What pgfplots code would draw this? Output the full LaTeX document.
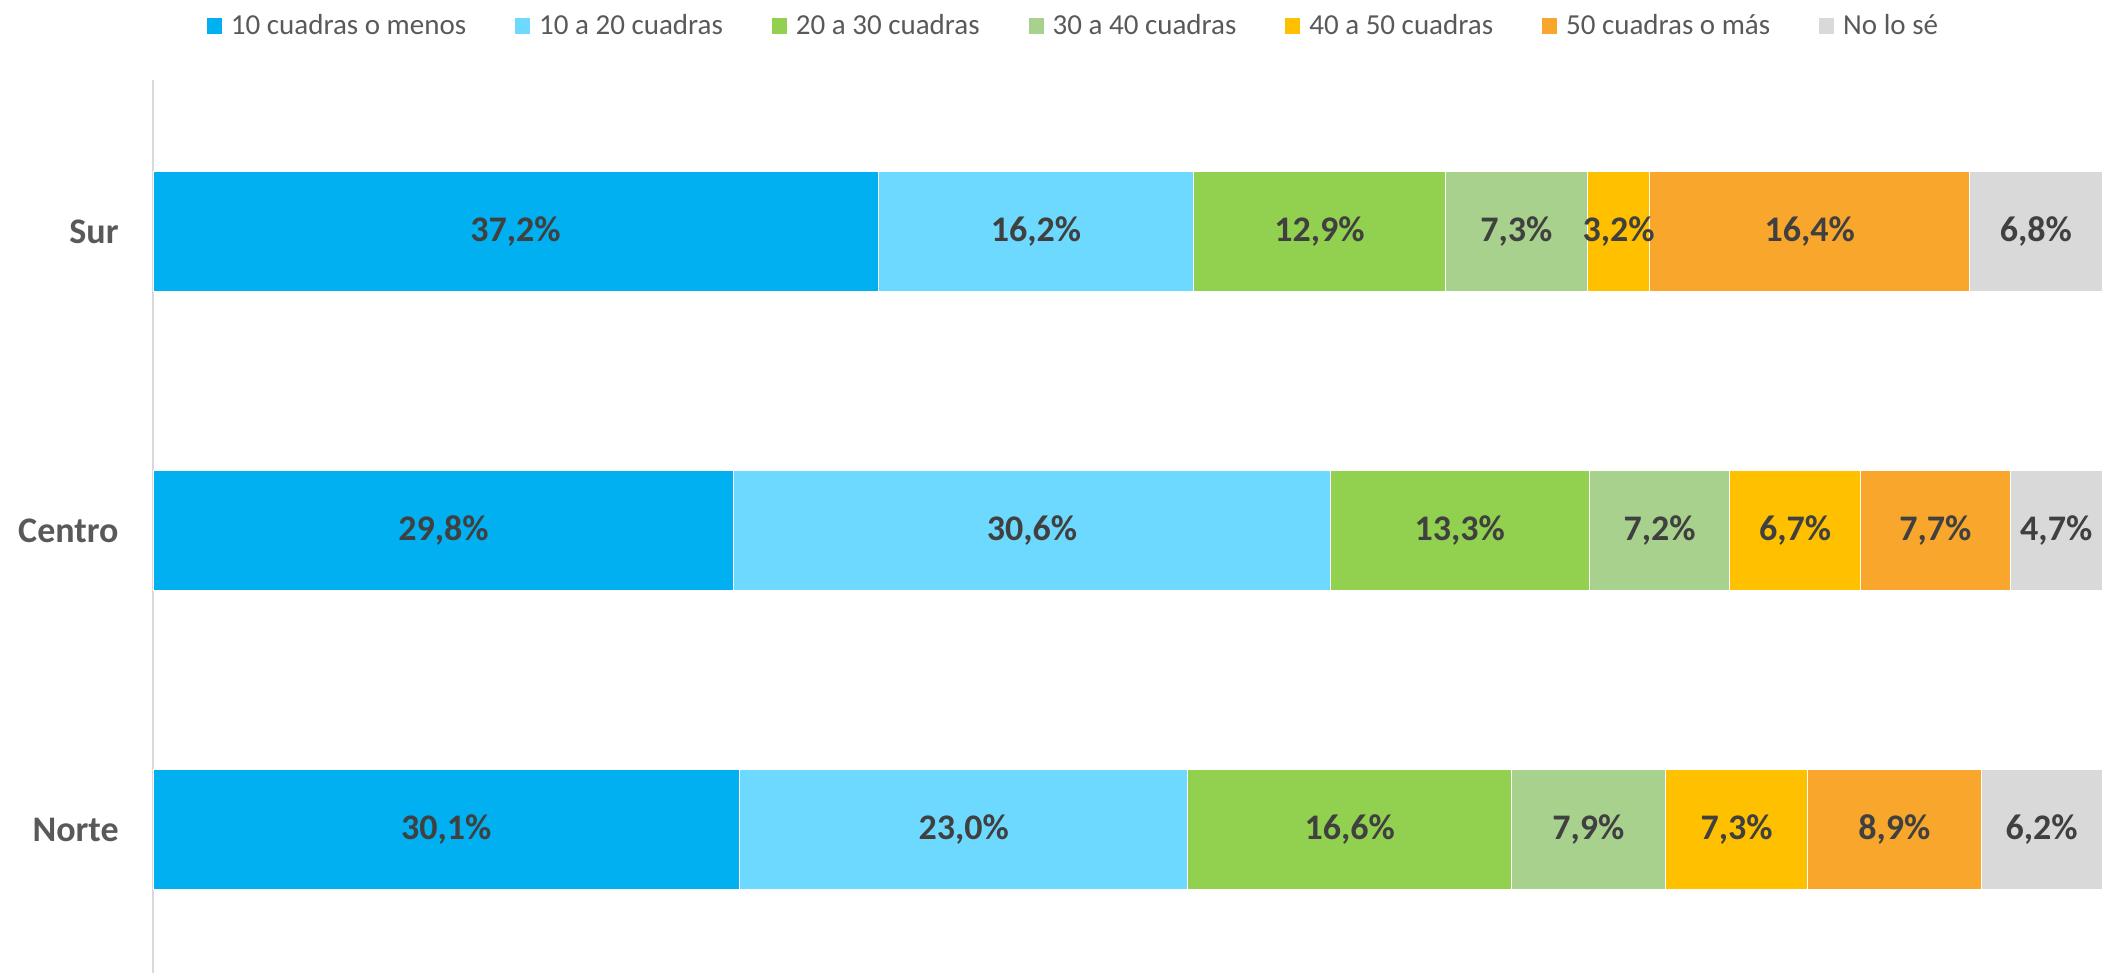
\documentclass[border=0pt]{standalone}
\usepackage{pgfplots}
\pgfplotsset{compat=1.18}
\usepackage{pgfplotstable}
\usepackage{fontspec}
\setmainfont{Carlito}
\definecolor{c1}{HTML}{00B0F0}
\definecolor{c2}{HTML}{6DD9FF}
\definecolor{c3}{HTML}{92D050}
\definecolor{c4}{HTML}{A9D18E}
\definecolor{c5}{HTML}{FFC000}
\definecolor{c6}{HTML}{F8A62C}
\definecolor{c7}{HTML}{D9D9D9}
\definecolor{axgray}{HTML}{D9D9D9}
\definecolor{lbl}{HTML}{595959}
\definecolor{val}{HTML}{404040}
\pgfplotstableread{
y s1 s2 s3 s4 s5 s6 s7
0 30.1 23.0 16.6 7.9 7.3 8.9 6.2
1 29.8 30.6 13.3 7.2 6.7 7.7 4.7
2 37.2 16.2 12.9 7.3 3.2 16.4 6.8
}\datatable
\tikzset{seg/.style={fill=#1, draw=white, line width=0.5pt}}
\begin{document}
\begin{tikzpicture}
\path[use as bounding box] (0,0) rectangle (1051pt,486.5pt);
\begin{axis}[
  at={(76.5pt,0pt)}, anchor=south west,
  scale only axis, width=974.5pt, height=446.5pt,
  xbar stacked, bar width=59.75pt,
  xmin=0, xmax=100, ymin=-0.48, ymax=2.507,
  hide x axis, axis y line*=left,
  y axis line style={draw=axgray, line width=1pt},
  ytick={0,1,2}, yticklabels={Norte,Centro,Sur}, major tick length=0pt,
  yticklabel style={font=\fontsize{18}{21}\selectfont\bfseries, text=lbl, inner sep=0pt, xshift=-17pt},
  nodes near coords={\pgfmathprintnumber[fixed,fixed zerofill,precision=1,use comma,assume math mode=true]{\segval}\%},
  every node near coord/.append style={anchor=center, font=\fontsize{18}{21}\selectfont\bfseries, text=val},
  legend columns=7,
  legend style={at={(0.4718,1.0605)}, anchor=center, draw=none, fill=none,
    font=\fontsize{14.5}{17}\selectfont, text=lbl,
    nodes={inner sep=0pt},
    /tikz/every odd column/.append style={column sep=4.5pt},
    /tikz/every even column/.append style={column sep=24.5pt}},
  legend image code/.code={\path[#1, draw=none] (0pt,-4pt) rectangle (7.5pt,4pt);},
  legend entries={10 cuadras o menos, 10 a 20 cuadras, 20 a 30 cuadras, 30 a 40 cuadras, 40 a 50 cuadras, 50 cuadras o más, No lo sé},
]
\addplot[seg=c1, visualization depends on={\thisrow{s1}\as\segval}] table[x=s1,y=y]{\datatable};
\addplot[seg=c2, visualization depends on={\thisrow{s2}\as\segval}] table[x=s2,y=y]{\datatable};
\addplot[seg=c3, visualization depends on={\thisrow{s3}\as\segval}] table[x=s3,y=y]{\datatable};
\addplot[seg=c4, visualization depends on={\thisrow{s4}\as\segval}] table[x=s4,y=y]{\datatable};
\addplot[seg=c5, visualization depends on={\thisrow{s5}\as\segval}] table[x=s5,y=y]{\datatable};
\addplot[seg=c6, visualization depends on={\thisrow{s6}\as\segval}] table[x=s6,y=y]{\datatable};
\addplot[seg=c7, visualization depends on={\thisrow{s7}\as\segval}] table[x=s7,y=y]{\datatable};
\end{axis}
\end{tikzpicture}
\end{document}
